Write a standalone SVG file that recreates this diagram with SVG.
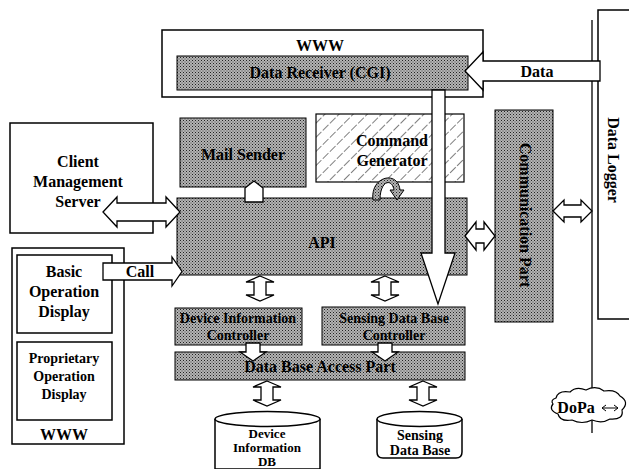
<svg xmlns="http://www.w3.org/2000/svg" width="629" height="469" viewBox="0 0 629 469">
<defs>
<pattern id="dots" width="3" height="3" patternUnits="userSpaceOnUse">
<rect width="3" height="3" fill="#b4b4b4"/>
<rect x="0" y="0" width="1" height="1" fill="#222"/>
<rect x="1.5" y="1.5" width="1" height="1" fill="#444"/>
</pattern>
<pattern id="hatch" width="10" height="10" patternUnits="userSpaceOnUse" patternTransform="rotate(45)">
<rect width="10" height="10" fill="#fff"/>
<line x1="0" y1="0" x2="0" y2="10" stroke="#000" stroke-width="1" stroke-dasharray="4,2"/>
</pattern>
<path id="vdbl" d="M0,0 L14,6 L6,6 L6,19 L14,19 L0,25 L-14,19 L-6,19 L-6,6 L-14,6 Z"/>
<path id="vdown" d="M-7,0 L7,0 L7,9 L13,9 L0,18 L-13,9 L-7,9 Z"/>
</defs>
<style>
.box{fill:#fff;stroke:#000;stroke-width:1.5}
.gray{fill:url(#dots);stroke:#000;stroke-width:1}
.arr{fill:#fff;stroke:#000;stroke-width:1.3}
text{font-family:"Liberation Serif","Times New Roman",serif;font-weight:bold;font-size:16px;text-anchor:middle;fill:#000}
.s{font-size:14px}
.d{font-size:13px}
</style>

<g id="data-logger">
<rect class="box" x="598" y="10" width="45" height="309"/>
<text transform="translate(612,160) rotate(90)" dominant-baseline="middle">Data Logger</text>
</g>

<g id="www-top">
<rect class="box" x="162" y="30" width="321" height="67"/>
<text x="320" y="51" font-size="17">WWW</text>
</g>
<g id="data-receiver">
<rect class="gray" x="177" y="56" width="291" height="34"/>
<text x="320" y="78">Data Receiver (CGI)</text>
</g>

<g id="client-management-server">
<rect class="box" x="10" y="123" width="143" height="110"/>
<text x="78" y="167">Client</text>
<text x="78" y="187">Management</text>
<text x="78" y="207">Server</text>
</g>

<g id="www-left">
<rect class="box" x="12" y="248" width="112" height="196"/>
<text x="64" y="440" font-size="14">WWW</text>
</g>
<g id="basic-operation-display">
<rect class="box" x="17" y="255" width="95" height="78"/>
<text x="64" y="277">Basic</text>
<text x="64" y="297">Operation</text>
<text x="64" y="317">Display</text>
</g>
<g id="proprietary-operation-display">
<rect class="box" x="17" y="342" width="95" height="78"/>
<text x="64" y="363" class="s">Proprietary</text>
<text x="64" y="381" class="s">Operation</text>
<text x="64" y="399" class="s">Display</text>
</g>

<g id="mail-sender">
<rect class="gray" x="180" y="118" width="126" height="69"/>
<text x="243" y="160">Mail Sender</text>
</g>

<g id="command-generator">
<rect x="316" y="114" width="148" height="68" fill="url(#hatch)" stroke="#000" stroke-width="1.2"/>
<text x="392" y="146" font-size="15">Command</text>
<text x="392" y="166" font-size="15">Generator</text>
</g>

<g id="api">
<rect class="gray" x="177" y="198" width="290" height="77"/>
<text x="322" y="248" font-size="17">API</text>
</g>

<g id="communication-part">
<rect class="gray" x="495" y="110" width="58" height="212"/>
<text transform="translate(524,215) rotate(90)" dominant-baseline="middle">Communication Part</text>
</g>

<g id="device-information-controller">
<rect class="gray" x="175" y="308" width="127" height="37"/>
<text x="238" y="323" class="s">Device Information</text>
<text x="238" y="340" class="s">Controller</text>
</g>

<g id="sensing-data-base-controller">
<rect class="gray" x="322" y="307" width="143" height="38"/>
<text x="394" y="323" class="s">Sensing Data Base</text>
<text x="394" y="340" class="s">Controller</text>
</g>

<g id="data-base-access-part">
<rect class="gray" x="175" y="352" width="290" height="28"/>
<text x="320" y="372">Data Base Access Part</text>
</g>

<g id="device-information-db">
<path class="box" d="M215,419 L215,469 L320,469 L320,419"/>
<ellipse class="box" cx="267.5" cy="419" rx="52.5" ry="7.5"/>
<text x="267" y="438" class="d">Device</text>
<text x="267" y="452" class="d">Information</text>
<text x="267" y="466" class="d">DB</text>
</g>

<g id="sensing-data-base">
<path class="box" d="M377,419 L377,452 Q377,458 383,458 L456,458 Q462,458 462,452 L462,419"/>
<ellipse class="box" cx="419.5" cy="419" rx="42.5" ry="7.5"/>
<text x="420" y="440" class="s">Sensing</text>
<text x="420" y="455" class="s">Data Base</text>
</g>

<g id="dopa">
<line x1="592" y1="20" x2="592" y2="392" stroke="#000" stroke-width="1.3"/>
<line x1="592" y1="420" x2="592" y2="433" stroke="#000" stroke-width="1.3"/>
<path d="M556,398 Q558,390 570,392 Q576,386 586,390 Q596,385 604,391 Q616,389 620,396 Q630,402 622,410 Q624,420 610,419 Q602,424 592,420 Q582,425 572,420 Q560,422 558,414 Q548,410 553,404 Q550,400 556,398 Z" fill="#fff" stroke="#000" stroke-width="1.2"/>
<text x="576" y="413" font-size="14">DoPa</text>
<path d="M602,408 L618,408 M614,405 L618,408 L614,411 M606,405 L602,408 L606,411" fill="none" stroke="#000" stroke-width="1"/>
</g>

<g id="connectors">
<polygon class="arr" points="600,61 483,61 483,52 465,71 483,90 483,81 600,81"/>
<text x="537" y="77" font-size="14">Data</text>
<polygon class="arr" points="432,90 445,90 445,253 455,253 438,304 421,253 432,253"/>
<polygon class="arr" points="103,212 117,197 117,203 166,203 166,197 180,212 166,227 166,221 117,221 117,227"/>
<polygon class="arr" points="103,263 172,263 172,257 182,271.5 172,286 172,280 103,280"/>
<text x="140" y="277" font-size="14">Call</text>
<polygon class="arr" points="254,181 263,188 263,202 245,202 245,188"/>
<path d="M373,200 C370,176 398,170 400,190 L404,190 L397,200 L390,190 L394,190 C392,178 380,180 380,200 Z" fill="url(#dots)" stroke="#000" stroke-width="1"/>
<polygon class="arr" points="465,236 476,222 476,229 484,229 484,222 495,236 484,250 484,243 476,243 476,250"/>
<polygon class="arr" points="553,211 564,200 564,205 581,205 581,200 592,211 581,222 581,217 564,217 564,222"/>
<use href="#vdbl" x="260" y="276" class="arr"/>
<use href="#vdbl" x="385" y="276" class="arr"/>
<use href="#vdown" x="253" y="343" class="arr"/>
<use href="#vdown" x="385" y="343" class="arr"/>
<use href="#vdbl" x="267" y="381" class="arr"/>
<use href="#vdbl" x="423" y="381" class="arr"/>
</g>
</svg>
